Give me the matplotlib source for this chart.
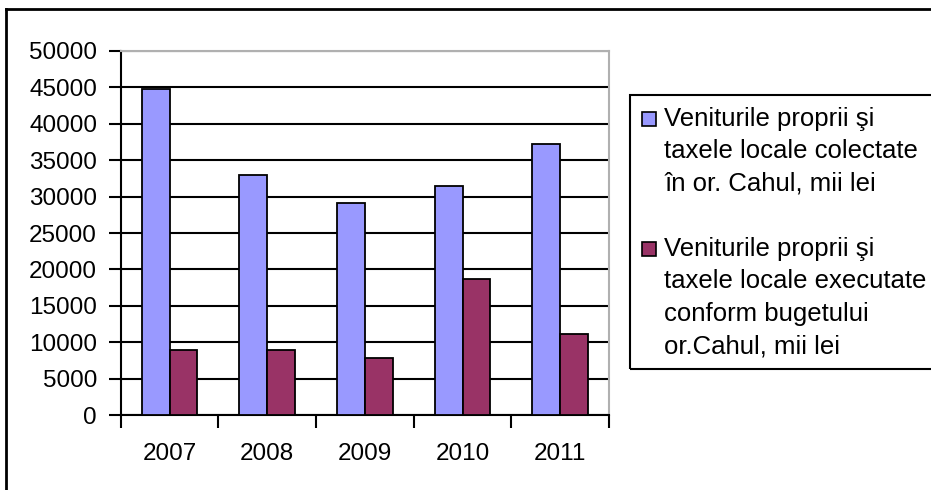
import matplotlib.pyplot as plt
from matplotlib.patches import Rectangle
from matplotlib.lines import Line2D
import numpy as np

# Date: venituri proprii si taxe locale, or. Cahul (mii lei)
years = ["2007", "2008", "2009", "2010", "2011"]
colectate = [44800, 32900, 29100, 31500, 37200]
executate = [8900, 8900, 7800, 18700, 11100]
labels = [
    "Veniturile proprii şi\ntaxele locale colectate\nîn or. Cahul, mii lei",
    "Veniturile proprii şi\ntaxele locale executate\nconform bugetului\nor.Cahul, mii lei",
]
colors = ["#9999FF", "#993366"]

plt.rcParams["font.family"] = ["Liberation Sans", "DejaVu Sans"]

W, H = 931, 490
fig = plt.figure(figsize=(W / 100, H / 100), dpi=100)
ax = fig.add_axes([120.7 / W, 1 - 415 / H, (609 - 120.7) / W, (415 - 51) / H])

x = np.arange(len(years))
bw = 0.285
ax.bar(x - bw / 2, colectate, bw, color=colors[0], edgecolor="black", linewidth=1.3, zorder=3)
ax.bar(x + bw / 2, executate, bw, color=colors[1], edgecolor="black", linewidth=1.3, zorder=3)

ax.set_xlim(-0.5, len(years) - 0.5)
ax.set_ylim(0, 50000)
ax.set_yticks(np.arange(0, 50001, 5000))
ax.tick_params(axis="y", labelsize=17.5, length=9, width=1.5, pad=8, direction="out")
ax.yaxis.grid(True, color="black", linewidth=1.5)
ax.set_axisbelow(True)

ax.set_xticks(x)
ax.set_xticklabels(years)
ax.set_xticks(np.arange(-0.5, len(years)), minor=True)
ax.tick_params(axis="x", which="major", length=0, labelsize=17.5, pad=20)
ax.tick_params(axis="x", which="minor", length=9, width=1.5, direction="out")

for side in ["left", "bottom"]:
    ax.spines[side].set_linewidth(1.5)
for side in ["top", "right"]:
    ax.spines[side].set_color("#b0b0b0")
    ax.spines[side].set_linewidth(1.5)

# rama exterioara
fig.add_artist(Line2D([6 / W, 6 / W], [1 - 9 / H, 0], color="black", linewidth=2))
fig.add_artist(Line2D([6 / W, 1], [1 - 9 / H, 1 - 9 / H], color="black", linewidth=2))

# legenda
fig.add_artist(Rectangle((630 / W, 1 - 369 / H), (940 - 630) / W, (369 - 95) / H,
                         transform=fig.transFigure, facecolor="none",
                         edgecolor="black", linewidth=1.5))
line_step = 32.5
starts = [126, 256]
for lab, col, base in zip(labels, colors, starts):
    fig.add_artist(Rectangle((642 / W, 1 - base / H), 14 / W, 14 / H,
                             transform=fig.transFigure, facecolor=col,
                             edgecolor="black", linewidth=1.2))
    for i, line in enumerate(lab.split("\n")):
        fig.text(664 / W, 1 - (base + i * line_step) / H, line,
                 fontsize=18.5, va="baseline", ha="left")

fig.savefig("out.png", dpi=100)
